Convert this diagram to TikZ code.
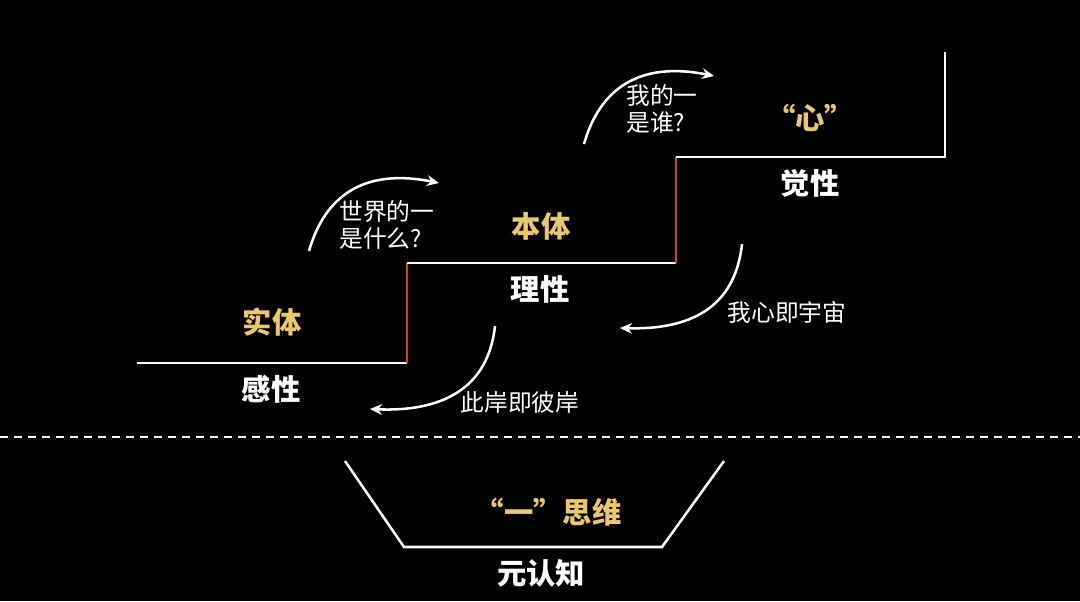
\documentclass[tikz,border=0pt]{standalone}
\usepackage{fontspec}
\setmainfont{Noto Sans CJK SC}
\newfontfamily\cjkbold{Noto Sans CJK SC Black}
\newfontfamily\cjkreg{Noto Sans CJK SC}
\usetikzlibrary{arrows.meta}
\definecolor{gold}{RGB}{234,200,108}
\definecolor{stairred}{RGB}{228,58,30}
\tikzset{
  boldlbl/.style={font=\cjkbold\fontsize{22}{26}\selectfont, inner sep=0pt},
  goldlbl/.style={boldlbl, text=gold},
  whitelbl/.style={boldlbl, text=white},
  reglbl/.style={font=\cjkreg\fontsize{17.8}{20.5}\selectfont, text=white, inner sep=0pt},
  stairline/.style={draw=white, line width=2.2pt},
  riser/.style={draw=stairred, line width=2.2pt},
  curvearrow/.style={draw=white, line width=1.9pt, -{Stealth[length=9pt,width=8pt,inset=3pt]}},
}
\begin{document}
\begin{tikzpicture}[x=0.75pt,y=-0.75pt]
\fill[black] (0,0) rectangle (1080,601);
\useasboundingbox (0,0) rectangle (1080,601);

% stair corners
\coordinate (s0) at (137,363);
\coordinate (s1) at (407,363);
\coordinate (s2) at (407,263);
\coordinate (s3) at (676,263);
\coordinate (s4) at (676,157);
\coordinate (s5) at (945,157);
\coordinate (s6) at (945,52);
\draw[stairline] (s0) -- (s1);
\draw[riser] (s1) -- (s2);
\draw[stairline] (s2) -- (s3);
\draw[riser] (s3) -- (s4);
\draw[stairline] (s4) -- (s5) -- (s6);

% dashed separator
\coordinate (d0) at (0,437);
\coordinate (d1) at (1080,437);
\draw[white, line width=1.3pt, dash pattern=on 6pt off 4.5pt] (d0) -- (d1);

% trapezoid
\coordinate (t0) at (345,461);
\coordinate (t1) at (404,547);
\coordinate (t2) at (662,547);
\coordinate (t3) at (724,461);
\draw[stairline, line width=1.9pt] (t0) -- (t1) -- (t2) -- (t3);

% bold labels
\node[goldlbl] (shiti) at (272,322) {实体};
\node[whitelbl] (ganxing) at (271,389) {感性};
\node[goldlbl] (benti) at (541,226) {本体};
\node[whitelbl] (lixing) at (540,289) {理性};
\node[goldlbl] (xin) at (810,118) {“心”};
\node[whitelbl] (juexing) at (810,183) {觉性};
\node[goldlbl] (yisiwei) at (548,512) {“一”思维};
\node[whitelbl] (yuanrenzhi) at (541,573) {元认知};

% regular labels
\node[reglbl, anchor=west, align=left] (q1) at (339,225) {世界的一\\是什么?};
\node[reglbl, anchor=west, align=left] (q2) at (626,109) {我的一\\是谁?};
\node[reglbl] (a1) at (520,402) {此岸即彼岸};
\node[reglbl] (a2) at (787,312) {我心即宇宙};

% curved arrows
\coordinate (c1s) at (309,251);
\coordinate (c1e) at (439,183);
\draw[curvearrow] (c1s) .. controls (325,195) and (365,168) .. (c1e);
\coordinate (c2s) at (584,144);
\coordinate (c2e) at (714,76);
\draw[curvearrow] (c2s) .. controls (600,88) and (640,61) .. (c2e);
\coordinate (c3s) at (495,326);
\coordinate (c3e) at (370,409);
\draw[curvearrow] (c3s) .. controls (488,390) and (440,412) .. (c3e);
\coordinate (c4s) at (742,244);
\coordinate (c4e) at (620,328);
\draw[curvearrow] (c4s) .. controls (735,308) and (690,330) .. (c4e);
\end{tikzpicture}
\end{document}
